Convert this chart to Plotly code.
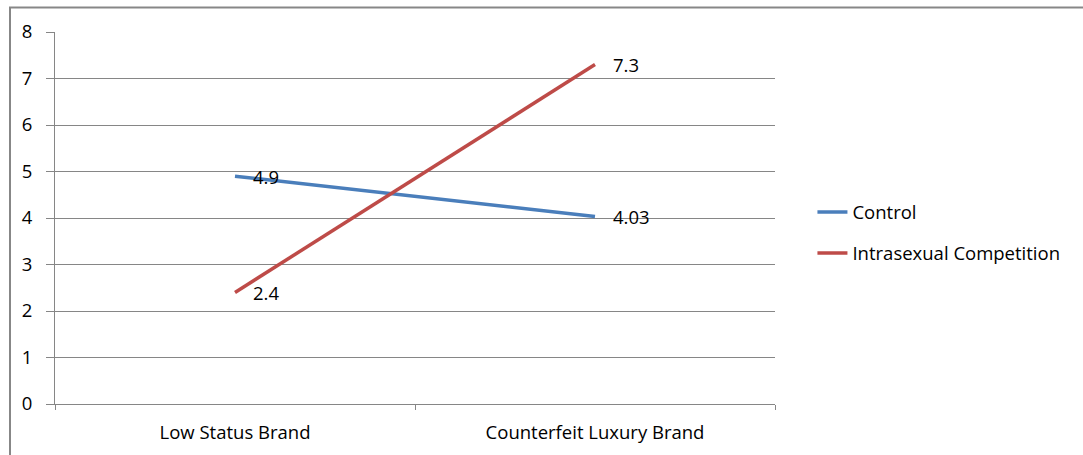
import plotly.graph_objects as go

categories = ["Low Status Brand", "Counterfeit Luxury Brand"]
control = [4.9, 4.03]
intrasexual = [2.4, 7.3]
control_labels = ["4.9", "4.03"]
intrasexual_labels = ["2.4", "7.3"]
y_ticks = [0, 1, 2, 3, 4, 5, 6, 7, 8]

FONT = "Open Sans"
SIZE = 18.5
GRID = "#868686"

fig = go.Figure()
fig.add_trace(go.Scatter(x=categories, y=control, mode="lines", name="Control",
                         line=dict(color="#4a7ebb", width=3.5), legendgroup="a"))
fig.add_trace(go.Scatter(x=categories, y=intrasexual, mode="lines", name="Intrasexual Competition",
                         line=dict(color="#be4b48", width=3.5), legendgroup="b"))

# value labels placed just right of each point
for xs, ys, labels in [(categories, control, control_labels),
                       (categories, intrasexual, intrasexual_labels)]:
    for x, y, t in zip(xs, ys, labels):
        fig.add_annotation(x=x, y=y, text=t, showarrow=False, xanchor="left",
                           yanchor="middle", xshift=16,
                           font=dict(family=FONT, size=SIZE, color="#000"))

# outer chart border
fig.add_shape(type="rect", xref="paper", yref="paper",
              x0=-0.0625, x1=1.5, y0=-0.5, y1=1.066,
              line=dict(color="#878787", width=2), fillcolor="rgba(0,0,0,0)", layer="below")

fig.update_layout(
    width=1083, height=455,
    margin=dict(l=55, r=308, t=32, b=51),
    paper_bgcolor="white", plot_bgcolor="white",
    font=dict(family=FONT, size=SIZE, color="#000"),
    showlegend=True,
    legend=dict(x=1.052, y=0.46, xanchor="left", yanchor="middle",
                tracegroupgap=14, font=dict(family=FONT, size=SIZE, color="#000"),
                bgcolor="rgba(0,0,0,0)"),
    xaxis=dict(type="category", range=[-0.5, 1.5], showgrid=False,
               showline=True, linecolor=GRID, linewidth=1,
               ticks="outside", tickson="boundaries", ticklen=5, tickcolor=GRID,
               ticklabelstandoff=12, zeroline=False),
    yaxis=dict(range=[0, 8], tickvals=y_ticks, showgrid=True, gridcolor=GRID, gridwidth=1,
               showline=True, linecolor=GRID, linewidth=1, zeroline=False,
               ticks="outside", ticklen=8, tickcolor=GRID, ticklabelstandoff=10),
)

fig.write_html("out.html")
